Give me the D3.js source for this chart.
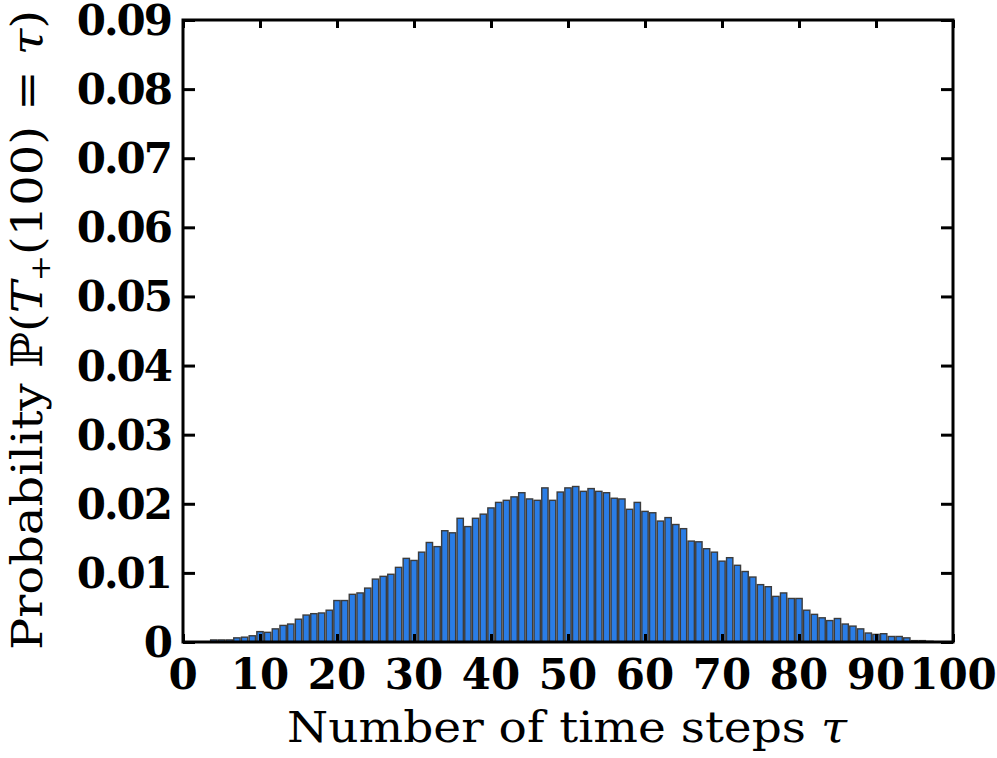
<!DOCTYPE html>
<html>
<head>
<meta charset="utf-8">
<script src="https://cdn.jsdelivr.net/npm/d3@7"></script>
<style>
  body { margin: 0; background: #fff; }
  svg { display: block; }
</style>
</head>
<body>
<div class="chart"></div>
<script>
// first-passage probability per time step
var steps = d3.range(4, 98)
var probs = [
  0.0003, 0.0003, 0.0003, 0.0006, 0.0007, 0.0009, 0.0015, 0.0014, 0.0019, 0.0024,   // 4..13
  0.0026, 0.0033, 0.0039, 0.0041, 0.0042, 0.0046, 0.0060, 0.0060, 0.0069, 0.0071,   // 14..23
  0.0078, 0.0091, 0.0095, 0.0098, 0.0108, 0.0121, 0.0118, 0.0130, 0.0144, 0.0138,   // 24..33
  0.0161, 0.0158, 0.0179, 0.0167, 0.0179, 0.0185, 0.0194, 0.0202, 0.0205, 0.0210,   // 34..43
  0.0216, 0.0207, 0.0205, 0.0223, 0.0205, 0.0217, 0.0223, 0.0225, 0.0218, 0.0222,   // 44..53
  0.0218, 0.0216, 0.0208, 0.0207, 0.0192, 0.0202, 0.0189, 0.0187, 0.0175, 0.0180,   // 54..63
  0.0170, 0.0164, 0.0146, 0.0145, 0.0135, 0.0130, 0.0117, 0.0122, 0.0111, 0.0102,   // 64..73
  0.0094, 0.0083, 0.0080, 0.0066, 0.0071, 0.0063, 0.0063, 0.0046, 0.0040, 0.0035,   // 74..83
  0.0031, 0.0034, 0.0026, 0.0023, 0.0019, 0.0013, 0.0011, 0.0012, 0.0008, 0.0008,   // 84..93
  0.0006, 0.0002, 0.0002, 0.0001                                                     // 94..97
]
var xTicks = d3.range(0, 101, 10)
var yTicks = d3.range(0, 0.0901, 0.01)

var W = 997, H = 758
// note: "top" is taken by window.top, so prefix the margins
var pLeft = 183, pRight = 953, pTop = 20, pBottom = 642

var x = d3.scaleLinear().domain([0, 100]).range([pLeft, pRight])
var y = d3.scaleLinear().domain([0, 0.09]).range([pBottom, pTop])

var svg = d3.select(".chart").append("svg")
    .attr("width", W)
    .attr("height", H)

// bars
var bw = 0.82
svg.append("g").selectAll("rect")
    .data(steps)
    .enter().append("rect")
    .attr("x", function(d) { return x(d - bw / 2) })
    .attr("width", function() { return x(bw) - x(0) })
    .attr("y", function(d, i) { return y(probs[i]) })
    .attr("height", function(d, i) { return pBottom - y(probs[i]) })
    .attr("fill", "#2a7de6")
    .attr("stroke", "#3c3c3c")
    .attr("stroke-width", 1.4)

var tickFont = "'DejaVu Serif', serif"

// ticks pointing inward on all four sides
var xb = d3.axisBottom(x).tickValues(xTicks).tickSize(-8).tickFormat("")
var xt = d3.axisTop(x).tickValues(xTicks).tickSize(-8).tickFormat("")
var yl = d3.axisLeft(y).tickValues(yTicks).tickSize(-12).tickFormat("")
var yr = d3.axisRight(y).tickValues(yTicks).tickSize(-12).tickFormat("")

svg.append("g").attr("transform", "translate(0," + pBottom + ")").call(xb)
svg.append("g").attr("transform", "translate(0," + pTop + ")").call(xt)
svg.append("g").attr("transform", "translate(" + pLeft + ",0)").call(yl)
svg.append("g").attr("transform", "translate(" + pRight + ",0)").call(yr)
svg.selectAll(".domain").remove()
svg.selectAll(".tick line").attr("stroke", "#000").attr("stroke-width", 3)

// frame
svg.append("rect")
    .attr("x", pLeft).attr("y", pTop)
    .attr("width", pRight - pLeft).attr("height", pBottom - pTop)
    .attr("fill", "none")
    .attr("stroke", "#000")
    .attr("stroke-width", 3)

// tick labels
svg.append("g").selectAll("text")
    .data(xTicks)
    .enter().append("text")
    .attr("x", function(d) { return x(d) })
    .attr("y", 689)
    .attr("text-anchor", "middle")
    .style("font-family", tickFont)
    .style("font-weight", "bold")
    .style("font-size", "42px")
    .text(function(d) { return d })

svg.append("g").selectAll("text")
    .data(yTicks)
    .enter().append("text")
    .attr("x", 171)
    .attr("y", function(d) { return y(d) + 15 })
    .attr("text-anchor", "end")
    .style("font-family", tickFont)
    .style("font-weight", "bold")
    .style("font-size", "42px")
    .style("letter-spacing", "-2px")
    .text(function(d) { return d === 0 ? "0" : d3.format(".2f")(d) })

// axis titles
svg.append("text")
    .attr("x", 567)
    .attr("y", 742)
    .attr("text-anchor", "middle")
    .attr("textLength", 560)
    .attr("lengthAdjust", "spacingAndGlyphs")
    .style("font-family", tickFont)
    .style("font-size", "43px")
    .text("Number of time steps ")
    .append("tspan")
    .style("font-style", "italic")
    .text("τ")

var yt = svg.append("text")
    .attr("transform", "translate(42,330) rotate(-90)")
    .attr("text-anchor", "middle")
    .attr("textLength", 640)
    .attr("lengthAdjust", "spacingAndGlyphs")
    .style("font-family", tickFont)
    .style("font-size", "43px")
yt.append("tspan").text("Probability ℙ(")
yt.append("tspan").style("font-style", "italic").text("T")
yt.append("tspan").attr("dy", 8).style("font-size", "28px").text("+")
yt.append("tspan").attr("dy", -8).text("(100) = ")
yt.append("tspan").style("font-style", "italic").text("τ")
yt.append("tspan").text(")")
</script>
</body>
</html>
